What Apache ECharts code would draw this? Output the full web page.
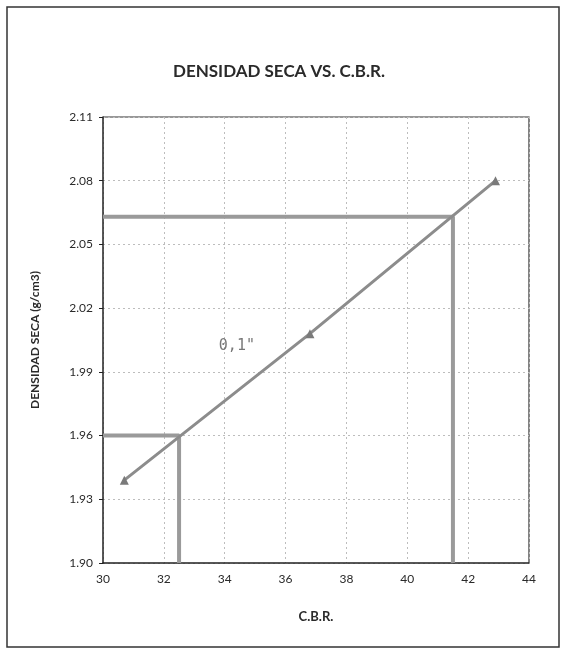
<!DOCTYPE html>
<html>
<head>
<meta charset="utf-8">
<script src="https://cdn.jsdelivr.net/npm/echarts@6/dist/echarts.min.js"></script>
<style>
  html, body { margin: 0; padding: 0; background: #fff; }
  #chart { width: 564px; height: 648px; }
</style>
</head>
<body>
<div id="chart"></div>
<script>
// Compaction test: dry density against C.B.R.
const cbrValues = [30.7, 36.8, 42.9];
const densityValues = [1.939, 2.008, 2.080];

// Reading lines: design density -> C.B.R.
const upperReading = [[30, 2.063], [41.5, 2.063], [41.5, 1.90]];
const lowerReading = [[30, 1.96], [32.5, 1.96], [32.5, 1.90]];

// Penetration label
const penetrationLabel = '0,1"';
const penetrationLabelAt = [34.4, 2.002];

const xTicks = [30, 32, 34, 36, 38, 40, 42, 44];
const yTicks = [1.90, 1.93, 1.96, 1.99, 2.02, 2.05, 2.08, 2.11];

const FONT = 'Lato, "Open Sans", sans-serif';

const chart = echarts.init(document.getElementById('chart'));

const gridLine = { show: true, lineStyle: { color: '#bdbdbd', type: [2, 3], width: 1 } };

chart.setOption({
  animation: false,
  backgroundColor: '#fff',
  title: {
    text: 'DENSIDAD SECA VS. C.B.R.',
    left: 274, top: 58, textAlign: 'center',
    textStyle: { fontFamily: FONT, fontWeight: 'bold', fontSize: 17, color: '#2a2a2a' }
  },
  grid: { left: 103, right: 35, top: 117, bottom: 85 },
  xAxis: {
    type: 'value', min: 30, max: 44, interval: 2,
    name: 'C.B.R.', nameLocation: 'middle', nameGap: 47,
    nameTextStyle: { fontFamily: FONT, fontWeight: 'bold', fontSize: 13, color: '#2a2a2a' },
    axisLine: { show: true, lineStyle: { color: '#222', width: 1.5 } },
    axisTick: { show: false },
    axisLabel: { fontFamily: FONT, fontSize: 12, color: '#2a2a2a', margin: 10,
      formatter: v => xTicks.includes(v) ? String(v) : '' },
    splitLine: gridLine
  },
  yAxis: {
    type: 'value', min: 1.90, max: 2.11, interval: 0.03,
    name: 'DENSIDAD SECA (g/cm3)', nameLocation: 'middle', nameGap: 62,
    nameTextStyle: { fontFamily: FONT, fontWeight: 'bold', fontSize: 12, color: '#2a2a2a' },
    axisLine: { show: true, lineStyle: { color: '#222', width: 1.5 } },
    axisTick: { show: true, length: 4, lineStyle: { color: '#222' } },
    axisLabel: { fontFamily: FONT, fontSize: 12, color: '#2a2a2a', margin: 10,
      formatter: v => {
        const t = yTicks.find(k => Math.abs(k - v) < 1e-6);
        return t === undefined ? '' : t.toFixed(2);
      } },
    splitLine: gridLine
  },
  graphic: [
    { type: 'rect', shape: { x: 7, y: 7, width: 552, height: 640 }, silent: true,
      style: { fill: 'none', stroke: '#333', lineWidth: 1.5 } },
    // thin right and top frame of the plot area
    { type: 'polyline', shape: { points: [[103, 117], [529, 117], [529, 563]] }, silent: true,
      style: { fill: 'none', stroke: '#333', lineWidth: 1.2 } }
  ],
  series: [
    {
      name: 'upper', type: 'line', data: upperReading, symbol: 'none',
      lineStyle: { color: '#9a9a9a', width: 4 }, z: 3
    },
    {
      name: 'lower', type: 'line', data: lowerReading, symbol: 'none',
      lineStyle: { color: '#9a9a9a', width: 4 }, z: 3
    },
    {
      name: 'densidad', type: 'line',
      data: cbrValues.map((c, i) => [c, densityValues[i]]),
      symbol: 'triangle', symbolSize: 9,
      itemStyle: { color: '#7a7a7a' },
      lineStyle: { color: '#8c8c8c', width: 3 }, z: 4
    },
    {
      name: 'label', type: 'scatter', data: [penetrationLabelAt], symbolSize: 0,
      label: { show: true, position: 'inside', formatter: penetrationLabel,
        fontFamily: '"DejaVu Sans Mono", monospace', fontSize: 15, color: '#555' },
      z: 5
    }
  ]
});
</script>
</body>
</html>
